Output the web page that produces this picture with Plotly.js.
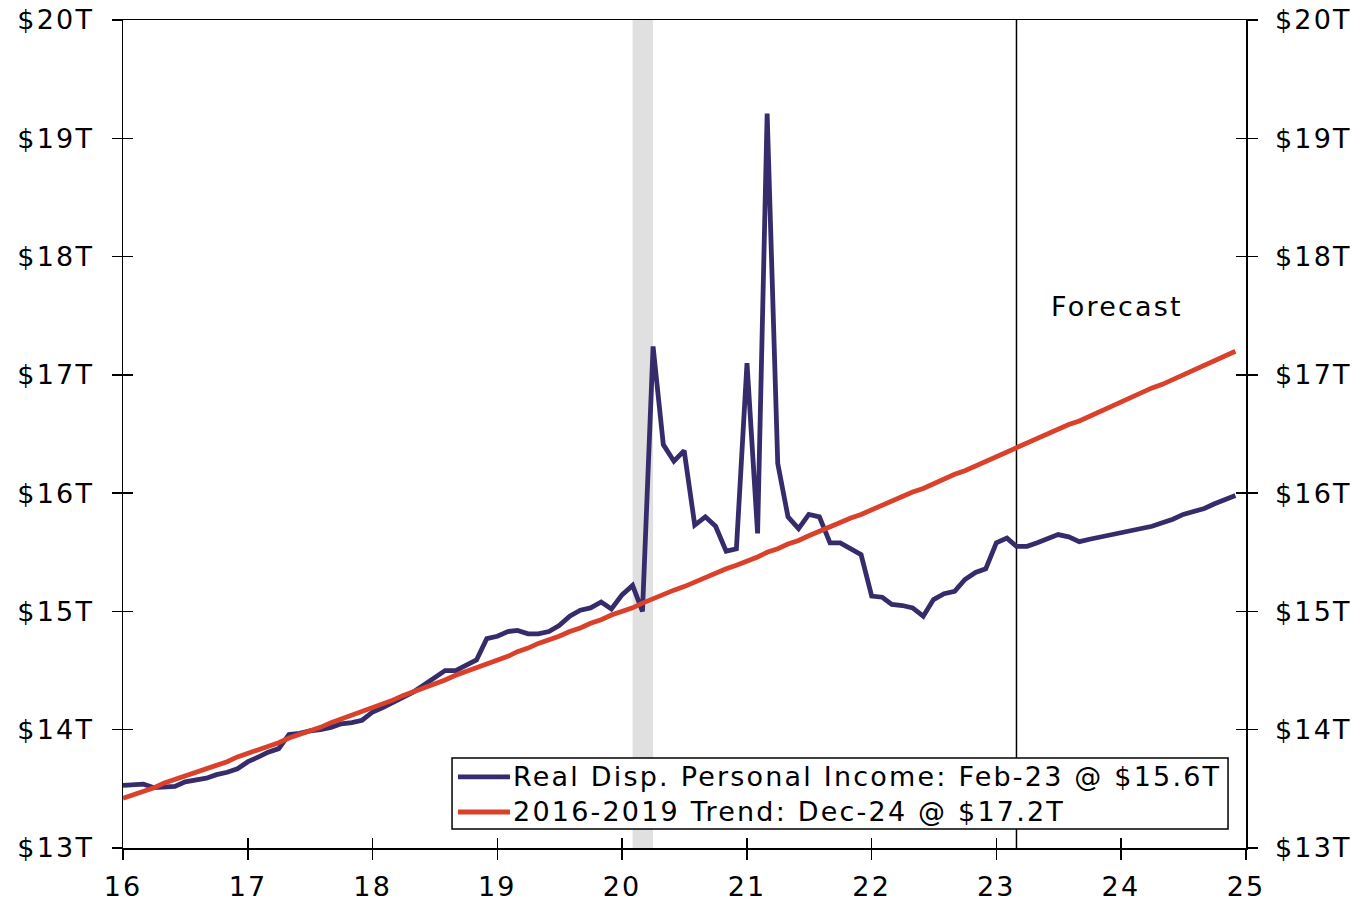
<!DOCTYPE html>
<html>
<head>
<meta charset="utf-8">
<script src="https://cdn.plot.ly/plotly-3.0.1.min.js"></script>
<style>
  html, body { margin: 0; padding: 0; background: #ffffff; }
  #chart { width: 1365px; height: 903px; }
  /* wide, Verdana-like lettering */
  svg text { letter-spacing: 2.2px; }
</style>
</head>
<body>
<div id="chart"></div>
<script>
// Monthly series, Jan 2016 through Dec 2024 (trillions of chained dollars, SAAR)
const startMonth = '2016-01';

const realDispIncome = [
  13.53, 13.54, 13.54, 13.51, 13.51, 13.52, 13.56, 13.58, 13.59, 13.62, 13.64, 13.67,
  13.73, 13.77, 13.81, 13.84, 13.96, 13.97, 13.99, 14.00, 14.02, 14.05, 14.06, 14.08,
  14.15, 14.19, 14.23, 14.27, 14.32, 14.38, 14.44, 14.50, 14.50, 14.55, 14.59, 14.77,
  14.79, 14.83, 14.84, 14.81, 14.81, 14.83, 14.88, 14.96, 15.01, 15.03, 15.08, 15.02,
  15.14, 15.22, 15.00, 17.24, 16.41, 16.27, 16.36, 15.73, 15.80, 15.72, 15.51, 15.53,
  17.10, 15.66, 19.21, 16.25, 15.80, 15.70, 15.82, 15.80, 15.58, 15.58, 15.53, 15.48,
  15.13, 15.12, 15.06, 15.05, 15.03, 14.96, 15.10, 15.15, 15.17, 15.27, 15.33, 15.36,
  15.58, 15.62, 15.55, 15.55, 15.58, 15.62, 15.65, 15.63, 15.59, 15.61, 15.63, 15.64,
  15.67, 15.68, 15.70, 15.72, 15.75, 15.78, 15.82, 15.84, 15.87, 15.91, 15.95, 15.98
];

const trend2016to2019 = [
  13.42, 13.45, 13.48, 13.51, 13.55, 13.58, 13.61, 13.64, 13.67, 13.70, 13.73, 13.77,
  13.80, 13.83, 13.86, 13.89, 13.93, 13.96, 13.99, 14.02, 14.06, 14.09, 14.12, 14.16,
  14.19, 14.22, 14.25, 14.29, 14.32, 14.35, 14.39, 14.42, 14.46, 14.49, 14.52, 14.56,
  14.59, 14.62, 14.66, 14.69, 14.73, 14.76, 14.79, 14.83, 14.86, 14.90, 14.93, 14.97,
  15.00, 15.03, 15.07, 15.11, 15.14, 15.18, 15.21, 15.25, 15.28, 15.32, 15.36, 15.39,
  15.42, 15.46, 15.50, 15.53, 15.57, 15.60, 15.64, 15.68, 15.71, 15.75, 15.79, 15.82,
  15.86, 15.90, 15.93, 15.97, 16.01, 16.04, 16.08, 16.12, 16.16, 16.19, 16.23, 16.27,
  16.31, 16.35, 16.38, 16.42, 16.46, 16.50, 16.54, 16.58, 16.61, 16.65, 16.69, 16.73,
  16.77, 16.81, 16.85, 16.89, 16.92, 16.96, 17.00, 17.04, 17.08, 17.12, 17.16, 17.20
];

const seriesNames = [
  'Real Disp. Personal Income: Feb-23 @ $15.6T',
  '2016-2019 Trend: Dec-24 @ $17.2T'
];

const recessionSpan = ['2020-02-01', '2020-04-01'];
const forecastStart = '2023-03-01';
const forecastLabel = 'Forecast';

const yTickVals = [13, 14, 15, 16, 17, 18, 19, 20];
const yTickText = ['$13T', '$14T', '$15T', '$16T', '$17T', '$18T', '$19T', '$20T'];
const xRange = ['2016-01-01', '2025-01-01'];

// Month-start dates for each observation
function monthDates(start, n) {
  const [y0, m0] = start.split('-').map(Number);
  const out = [];
  for (let k = 0; k < n; k++) {
    const t = (m0 - 1) + k;
    const y = y0 + Math.floor(t / 12);
    const m = (t % 12) + 1;
    out.push(y + '-' + String(m).padStart(2, '0') + '-01');
  }
  return out;
}
const months = monthDates(startMonth, realDispIncome.length);

const FONT = 'DejaVu Sans, Verdana, sans-serif';
const FS = 27;
const NAVY = '#362c6b';
const RED = '#d9412b';
const seriesColors = [NAVY, RED];

const traces = [
  {
    x: months, y: realDispIncome, name: seriesNames[0],
    type: 'scatter', mode: 'lines', showlegend: false,
    line: { color: NAVY, width: 4.8 }, hoverinfo: 'x+y'
  },
  {
    x: months, y: trend2016to2019, name: seriesNames[1],
    type: 'scatter', mode: 'lines', showlegend: false,
    line: { color: RED, width: 4.8 }, hoverinfo: 'x+y'
  },
  // empty traces that bind the right-hand and inner-tick axes
  { x: [], y: [], xaxis: 'x', yaxis: 'y2', showlegend: false, hoverinfo: 'skip', type: 'scatter', mode: 'lines' },
  { x: [], y: [], xaxis: 'x2', yaxis: 'y3', showlegend: false, hoverinfo: 'skip', type: 'scatter', mode: 'lines' }
];

const yBase = {
  range: [13, 20], tickvals: yTickVals, ticktext: yTickText,
  showgrid: false, zeroline: false, fixedrange: true,
  tickcolor: '#000', tickwidth: 1.5, ticklen: 10,
  linecolor: '#000', linewidth: 1.5, ticklabelstandoff: 12,
  tickfont: { family: FONT, size: FS, color: '#000' }
};

// Boxed key in the lower right of the plot (paper coordinates)
const key = { x0: 0.293, x1: 0.984, y0: 0.023, y1: 0.1087, lineX0: 0.2983, lineX1: 0.3446, textX: 0.3455, rows: [0.0858, 0.0435] };

const keyShapes = [
  {
    type: 'rect', xref: 'paper', yref: 'paper', layer: 'above',
    x0: key.x0, x1: key.x1, y0: key.y0, y1: key.y1,
    fillcolor: '#ffffff', line: { color: '#000', width: 1.5 }
  }
];
const keyLabels = [];
seriesNames.forEach((name, i) => {
  keyShapes.push({
    type: 'line', xref: 'paper', yref: 'paper', layer: 'above',
    x0: key.lineX0, x1: key.lineX1, y0: key.rows[i], y1: key.rows[i],
    line: { color: seriesColors[i], width: 4.8 }
  });
  keyLabels.push({
    xref: 'paper', yref: 'paper', x: key.textX, y: key.rows[i],
    xanchor: 'left', yanchor: 'middle', showarrow: false,
    text: name, font: { family: FONT, size: FS, color: '#000' }
  });
});

const layout = {
  width: 1365, height: 903,
  margin: { l: 123, r: 119, t: 20, b: 55 },
  paper_bgcolor: '#ffffff', plot_bgcolor: '#ffffff',
  font: { family: FONT, size: FS, color: '#000' },
  showlegend: false,
  xaxis: {
    type: 'date', range: xRange,
    tick0: '2016-01-01', dtick: 'M12', tickformat: '%y',
    ticks: 'outside', ticklen: 10, tickwidth: 1.5, tickcolor: '#000',
    showline: true, linecolor: '#000', linewidth: 1.5, mirror: true,
    showgrid: false, zeroline: false, fixedrange: true, ticklabelstandoff: 4,
    tickfont: { family: FONT, size: FS, color: '#000' }
  },
  xaxis2: {
    type: 'date', range: xRange, overlaying: 'x', anchor: 'y', side: 'bottom',
    tick0: '2016-01-01', dtick: 'M12',
    ticks: 'inside', ticklen: 10, tickwidth: 1.5, tickcolor: '#000',
    showticklabels: false, showline: false, showgrid: false, zeroline: false,
    fixedrange: true
  },
  yaxis: Object.assign({}, yBase, { side: 'left', ticks: 'outside', showline: true }),
  yaxis2: Object.assign({}, yBase, { side: 'right', overlaying: 'y', anchor: 'x', ticks: 'outside', showline: true }),
  yaxis3: Object.assign({}, yBase, {
    side: 'left', overlaying: 'y', anchor: 'x2', ticks: 'inside', mirror: 'ticks',
    showline: false, showticklabels: false
  }),
  shapes: [
    {
      type: 'rect', layer: 'below', xref: 'x', yref: 'paper',
      x0: recessionSpan[0], x1: recessionSpan[1], y0: 0, y1: 1,
      fillcolor: '#e0e0e0', line: { width: 0 }
    },
    {
      type: 'line', layer: 'below', xref: 'x', yref: 'paper',
      x0: forecastStart, x1: forecastStart, y0: 0, y1: 1,
      line: { color: '#000', width: 1.5 }
    }
  ].concat(keyShapes),
  annotations: [
    {
      xref: 'x', yref: 'y', x: '2023-12-20', y: 17.58,
      text: forecastLabel, showarrow: false,
      xanchor: 'center', yanchor: 'middle',
      font: { family: FONT, size: FS, color: '#000' }
    }
  ].concat(keyLabels)
};

Plotly.newPlot('chart', traces, layout, { displayModeBar: false, staticPlot: true });
</script>
</body>
</html>
